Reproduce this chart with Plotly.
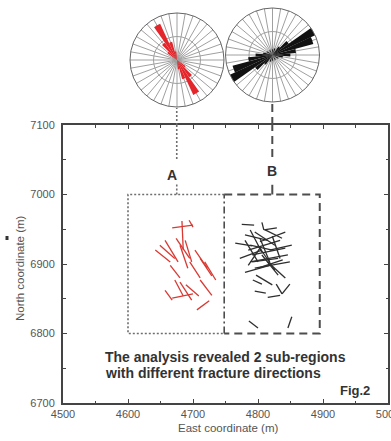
import plotly.graph_objects as go

# ---------------- data ----------------
x_range = [4500, 5000]
y_range = [6700, 7100]
x_ticks = [4500, 4600, 4700, 4800, 4900, 5000]
y_ticks = [6700, 6800, 6900, 7000, 7100]

boxA_x = [4600, 4748]
boxA_y = [6800, 7000]
boxB_x = [4748, 4895]
boxB_y = [6800, 7000]

label_A = (4667, 7028)
label_B = (4822, 7034)
conn_A_x = 4675
conn_B_x = 4822

# red fractures (sub-region A): start / end coordinates (m)
red_x0 = [4668, 4683, 4694, 4649, 4657, 4674, 4680, 4688, 4642, 4703, 4711,
          4718, 4695, 4711, 4672, 4680, 4668, 4689, 4706, 4657, 4665]
red_y0 = [6952, 6962, 6963, 6927, 6934, 6937, 6927, 6934, 6920, 6920, 6908,
          6903, 6903, 6877, 6877, 6874, 6851, 6870, 6834, 6862, 6898]
red_x1 = [4700, 4685, 4700, 4672, 4677, 4695, 4692, 4698, 4665, 4722, 4729,
          4735, 4711, 4729, 4685, 4698, 4700, 4709, 4725, 4668, 4680]
red_y1 = [6956, 6920, 6953, 6908, 6903, 6908, 6894, 6903, 6903, 6894, 6883,
          6877, 6880, 6855, 6854, 6848, 6857, 6854, 6847, 6848, 6880]

# black fractures (sub-region B)
blk_x0 = [4775, 4806, 4809, 4765, 4780, 4788, 4795, 4785, 4791, 4803, 4811,
          4788, 4780, 4795, 4800, 4806, 4772, 4818, 4797, 4815, 4780, 4822,
          4792, 4795, 4815, 4828, 4837, 4786, 4852, 4803, 4785, 4791, 4800, 4788]
blk_y0 = [6957, 6960, 6949, 6930, 6942, 6949, 6946, 6920, 6913, 6937, 6949,
          6903, 6888, 6894, 6927, 6913, 6908, 6920, 6884, 6903, 6934, 6940,
          6877, 6861, 6852, 6871, 6857, 6818, 6824, 6932, 6898, 6903, 6894, 6927]
blk_x1 = [4794, 4809, 4829, 4791, 4815, 4806, 4826, 4834, 4842, 4818, 4837,
          4846, 4818, 4849, 4826, 4831, 4806, 4852, 4822, 4842, 4800, 4834,
          4806, 4812, 4834, 4837, 4849, 4800, 4846, 4842, 4803, 4831, 4838, 4822]
blk_y1 = [6956, 6949, 6952, 6926, 6934, 6917, 6927, 6934, 6923, 6903, 6937,
          6913, 6898, 6903, 6891, 6884, 6920, 6927, 6870, 6880, 6903, 6908,
          6871, 6858, 6855, 6857, 6871, 6808, 6808, 6946, 6923, 6908, 6906, 6920]

# rose diagrams (azimuth in degrees, relative frequency)
roseA_theta = [130, 140, 150, 160, 170, 310, 320, 330, 340, 350]
roseA_r = [0.22, 0.45, 0.82, 0.42, 0.20, 0.25, 0.45, 0.85, 0.40, 0.18]

roseB_theta = [0, 20, 40, 50, 60, 70, 80, 90, 100, 120, 150, 180, 200,
               220, 230, 240, 250, 260, 270, 280, 300, 330]
roseB_r = [0.12, 0.15, 0.22, 0.42, 1.00, 0.90, 0.50, 0.38, 0.22, 0.14, 0.12, 0.12, 0.15,
           0.25, 0.45, 1.00, 0.88, 0.52, 0.36, 0.20, 0.14, 0.12]

text_line1 = "The analysis revealed 2 sub-regions"
text_line2 = "with different fracture directions"
fig_label = "Fig.2"
x_title = "East coordinate (m)"
y_title = "North coordinate (m)"


def seg_xy(x0, y0, x1, y1):
    xs, ys = [], []
    for a, b, c, d in zip(x0, y0, x1, y1):
        xs += [a, c, None]
        ys += [b, d, None]
    return xs, ys


# ---------------- layout geometry (pixels -> paper) ----------------
W, H = 391, 441
ml, mr, mt, mb = 63, 3, 5, 38
pw, ph = W - ml - mr, H - mt - mb


def px(xp):
    return (xp - ml) / pw


def py(yp):
    return (H - mb - yp) / ph


def xdata_to_paper(v):
    return (v - x_range[0]) / (x_range[1] - x_range[0])


ydom_top = py(125)

FONT = "Liberation Sans, Arial, sans-serif"

fig = go.Figure()

rx, ry = seg_xy(red_x0, red_y0, red_x1, red_y1)
fig.add_trace(go.Scatter(x=rx, y=ry, mode="lines",
                         line=dict(color="#d83a33", width=1.3),
                         hoverinfo="skip", showlegend=False))
bx, by = seg_xy(blk_x0, blk_y0, blk_x1, blk_y1)
fig.add_trace(go.Scatter(x=bx, y=by, mode="lines",
                         line=dict(color="#2e2e2e", width=1.3),
                         hoverinfo="skip", showlegend=False))

fig.add_trace(go.Barpolar(theta=roseA_theta, r=roseA_r, subplot="polar",
                          marker=dict(color="#e3262b", line=dict(width=0)),
                          showlegend=False, hoverinfo="skip"))
fig.add_trace(go.Barpolar(theta=roseB_theta, r=roseB_r, subplot="polar2",
                          marker=dict(color="#111111", line=dict(width=0)),
                          showlegend=False, hoverinfo="skip"))

polar_common = dict(
    bgcolor="white",
    bargap=0,
    angularaxis=dict(direction="clockwise", rotation=90, dtick=10,
                     showticklabels=False, ticks="", gridcolor="#a0a0a0",
                     gridwidth=0.8, showline=True, linecolor="#666666", linewidth=1),
    radialaxis=dict(range=[0, 1], tickvals=[0.5], showticklabels=False, ticks="",
                    gridcolor="#a0a0a0", gridwidth=0.8, showline=False),
)

shapes = []
dotA = dict(color="#6e6e6e", width=1.6, dash="2px,2px")
dashB = dict(color="#4d4d4d", width=2, dash="8px,5px")
# box A (left, top, bottom)
shapes.append(dict(type="path", xref="x", yref="y",
                   path=f"M{boxA_x[1]},{boxA_y[1]} L{boxA_x[0]},{boxA_y[1]} L{boxA_x[0]},{boxA_y[0]} L{boxA_x[1]},{boxA_y[0]}",
                   line=dotA))
# box B (top, right, bottom)
shapes.append(dict(type="path", xref="x", yref="y",
                   path=f"M{boxB_x[0]},{boxB_y[1]} L{boxB_x[1]},{boxB_y[1]} L{boxB_x[1]},{boxB_y[0]} L{boxB_x[0]},{boxB_y[0]}",
                   line=dashB))
# divider between A and B
shapes.append(dict(type="line", xref="x", yref="y", x0=boxB_x[0], x1=boxB_x[0],
                   y0=boxB_y[0], y1=boxB_y[1],
                   line=dict(color="#4d4d4d", width=1.6, dash="7px,3px,2px,3px")))
# connectors A
shapes.append(dict(type="line", xref="x", yref="y", x0=conn_A_x, x1=conn_A_x,
                   y0=7051, y1=y_range[1], line=dotA))
shapes.append(dict(type="line", xref="x", yref="y", x0=conn_A_x, x1=conn_A_x,
                   y0=boxA_y[1], y1=7016, line=dotA))
shapes.append(dict(type="line", xref="paper", yref="paper",
                   x0=xdata_to_paper(conn_A_x), x1=xdata_to_paper(conn_A_x),
                   y0=ydom_top, y1=py(108), line=dotA))
# connectors B
shapes.append(dict(type="line", xref="x", yref="y", x0=conn_B_x, x1=conn_B_x,
                   y0=7054, y1=y_range[1], line=dashB))
shapes.append(dict(type="line", xref="x", yref="y", x0=conn_B_x, x1=conn_B_x,
                   y0=boxB_y[1], y1=7014, line=dict(color="#4d4d4d", width=2)))
shapes.append(dict(type="line", xref="paper", yref="paper",
                   x0=xdata_to_paper(conn_B_x), x1=xdata_to_paper(conn_B_x),
                   y0=ydom_top, y1=py(103), line=dashB))
# small mark at left
shapes.append(dict(type="rect", xref="paper", yref="paper",
                   x0=px(5.5), x1=px(8.5), y0=py(240), y1=py(236),
                   fillcolor="#333333", line=dict(width=0)))

txt_font = dict(family=FONT, size=14, color="#333333")
annotations = [
    dict(x=label_A[0], y=label_A[1], xref="x", yref="y", text="<b>A</b>",
         showarrow=False, font=dict(family=FONT, size=14, color="#333333")),
    dict(x=label_B[0], y=label_B[1], xref="x", yref="y", text="<b>B</b>",
         showarrow=False, font=dict(family=FONT, size=14, color="#333333")),
    dict(x=4561, y=6766, xref="x", yref="y", text=f"<b>{text_line1}</b>",
         showarrow=False, xanchor="left", yanchor="middle", font=txt_font),
    dict(x=4561, y=6743, xref="x", yref="y", text=f"<b>{text_line2}</b>",
         showarrow=False, xanchor="left", yanchor="middle", font=txt_font),
    dict(x=4975, y=6718, xref="x", yref="y", text=f"<b>{fig_label}</b>",
         showarrow=False, xanchor="right", yanchor="middle",
         font=dict(family=FONT, size=13, color="#333333")),
    dict(x=px(228), y=py(428), xref="paper", yref="paper", text=x_title,
         showarrow=False, xanchor="center", yanchor="middle",
         font=dict(family=FONT, size=11.5, color="#555555")),
    dict(x=px(20), y=py(268), xref="paper", yref="paper", text=y_title,
         showarrow=False, textangle=-90, xanchor="center", yanchor="middle",
         font=dict(family=FONT, size=11.5, color="#555555")),
]

axis_common = dict(showgrid=False, zeroline=False, showline=True,
                   linecolor="#444444", linewidth=2, mirror="ticks",
                   ticks="inside", ticklen=4, tickwidth=1, tickcolor="#444444",
                   tickfont=dict(family=FONT, size=11, color="#555555"),
                   automargin=False, ticklabeloverflow="allow",
                   minor=dict(ticks="inside", ticklen=2.5, tickcolor="#444444", dtick=50))

fig.update_layout(
    template="none",
    width=W, height=H,
    margin=dict(l=ml, r=mr, t=mt, b=mb),
    paper_bgcolor="white", plot_bgcolor="white",
    showlegend=False,
    xaxis=dict(range=x_range, domain=[0, 1], tickvals=x_ticks, **axis_common),
    yaxis=dict(range=y_range, domain=[0, ydom_top], tickvals=y_ticks,
               ticklabelstandoff=4, **axis_common),
    polar=dict(domain=dict(x=[px(130), px(224)], y=[py(107), py(13)]), **polar_common),
    polar2=dict(domain=dict(x=[px(225.5), px(319.5)], y=[py(102), py(8)]), **polar_common),
    shapes=shapes,
    annotations=annotations,
)

fig.write_html("out.html", config={"displayModeBar": False},
               post_script="document.body.style.margin='0px';")
